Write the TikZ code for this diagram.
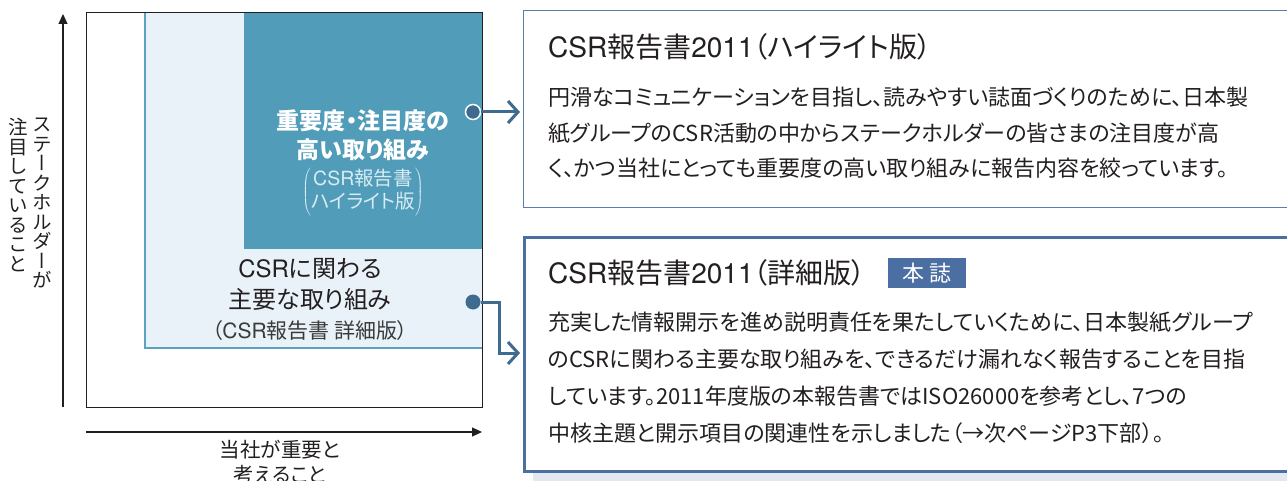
\documentclass[tikz,border=0pt]{standalone}
\usepackage{fontspec}
\setmainfont{Noto Sans CJK JP}[RawFeature=+palt]
\newfontfamily\tatefont{Noto Sans CJK JP}[RawFeature=+vert]
\newfontfamily\latfont{TeX Gyre Heros}
\newcommand\lat[1]{{\latfont #1}}
\usepackage{tikz}
\usetikzlibrary{arrows.meta,positioning}
\definecolor{hiblue}{HTML}{519CB9}
\definecolor{paleblue}{HTML}{E9F2F8}
\definecolor{edgeblue}{HTML}{5BA2BE}
\definecolor{linkblue}{HTML}{3F6B8F}
\definecolor{boxblue}{HTML}{5A7DAE}
\definecolor{tagblue}{HTML}{4B6FA3}
\definecolor{inkgray}{HTML}{231F20}
\definecolor{subgray}{HTML}{3A3A3A}
\definecolor{hisubtext}{HTML}{D8ECF3}
\definecolor{shadowgray}{HTML}{E3E7EF}

\begin{document}
\begin{tikzpicture}[x=1pt,y=-1pt,
							axis/.style={line width=1.2pt,draw=inkgray,-{Triangle[length=10pt,width=9pt]}},
							link/.style={draw=linkblue,line width=3pt,shorten >=3pt,-{Straight Barb[length=10pt,width=22pt]}},
							dot/.style={circle,fill=linkblue,inner sep=0pt,minimum size=15pt},
							infobox/.style={fill=white,anchor=north west,inner sep=0pt},
							txt/.style={inner sep=0pt,text=inkgray},
							tag/.style={fill=tagblue,text=white,inner sep=0pt,minimum width=78pt,minimum height=30pt}]
			\useasboundingbox (0,0) rectangle (1287,481);
			% matrix
			\fill[paleblue] (145,12) rectangle (482,348);
			\draw[edgeblue,line width=1.5pt] (145,12) -- (145,348) -- (482,348);
			\fill[hiblue] (244,12) rectangle (482,249);
			\draw[inkgray,line width=0.8pt] (86,12) rectangle (482,407);
			\coordinate (ybot) at (63,407);
			\coordinate (ytop) at (63,14);
			\coordinate (xleft) at (86,432);
			\coordinate (xright) at (482,432);
			\draw[axis] (ybot) -- (ytop);
			\draw[axis] (xleft) -- (xright);
			\node[txt,anchor=north,align=center,font=\tatefont\fontsize{19.5}{19.5}\selectfont] (ylabA) at (42,118)
				{ス\\テ\\ー\\ク\\ホ\\ル\\ダ\\ー\\が};
			\node[txt,anchor=north,align=center,font=\tatefont\fontsize{19.5}{19.5}\selectfont] (ylabB) at (18,118)
				{注\\目\\し\\て\\い\\る\\こ\\と};
			\node[txt,anchor=north,align=center,font=\fontsize{20.5}{25}\selectfont] (xlab) at (280,440)
				{当社が重要と\\考えること};
			\node[txt,text=white,align=center,font=\bfseries\fontsize{23}{29}\selectfont] (hititle) at (363,135.5)
				{重要度・注目度の\\高い取り組み};
			\node[txt,text=hisubtext,font=\fontsize{19.5}{23}\selectfont] (hisub) at (363,192)
				{$\left(\begin{tabular}{@{}c@{}}\lat{CSR}報告書\\ハイライト版\end{tabular}\right)$};
			\node[txt,align=center,font=\fontsize{24}{31}\selectfont] (mjtitle) at (310,284.5)
				{\lat{CSR}に関わる\\主要な取り組み};
			\node[txt,text=subgray,font=\fontsize{21}{21}\selectfont] (mjsub) at (310,331)
				{（\lat{CSR}報告書 詳細版）};
			% report boxes
			\fill[shadowgray] (533,246) rectangle (1300,481);
			\node[infobox,draw=boxblue,line width=1.3pt,minimum width=780pt,minimum height=197pt] (hibox) at (523,10) {};
			\node[infobox,draw=tagblue,line width=3pt,minimum width=780pt,minimum height=234pt] (dtbox) at (523,236) {};
			\node[txt,anchor=west,font=\fontsize{28}{28}\selectfont] (hihead) at (548,47)
				{\lat{CSR}報告書\lat{2011}（ハイライト版）};
			\node[txt,anchor=north west,align=left,font=\fontsize{22}{35.5}\selectfont] (hibody) at (548,87)
				{円滑なコミュニケーションを目指し、読みやすい誌面づくりのために、日本製\\
				紙グループのCSR活動の中からステークホルダーの皆さまの注目度が高\\
				く、かつ当社にとっても重要度の高い取り組みに報告内容を絞っています。};
			\node[txt,anchor=west,font=\fontsize{28}{28}\selectfont] (dthead) at (548,273)
				{\lat{CSR}報告書\lat{2011}（詳細版）};
			\node[tag,right=22pt of dthead,font=\fontsize{22}{22}\selectfont] (dttag) {本 誌};
			\node[txt,anchor=north west,align=left,font=\fontsize{22}{37}\selectfont] (dtbody) at (548,312)
				{充実した情報開示を進め説明責任を果たしていくために、日本製紙グループ\\
				のCSRに関わる主要な取り組みを、できるだけ漏れなく報告することを目指\\
				しています。2011年度版の本報告書ではISO26000を参考とし、7つの\\
				中核主題と開示項目の関連性を示しました（→次ページP3下部）。};
			% connectors
			\node[dot,draw=white,line width=1.5pt] (hidot) at (473,112) {};
			\node[dot] (dtdot) at (473,302) {};
			\coordinate (dtbend) at (499,353);
			\draw[link] (hidot) -- (hidot -| hibox.west);
			\draw[link] (dtdot) -| (dtbend) -- (dtbend -| dtbox.west);
		\end{tikzpicture}
\end{document}
